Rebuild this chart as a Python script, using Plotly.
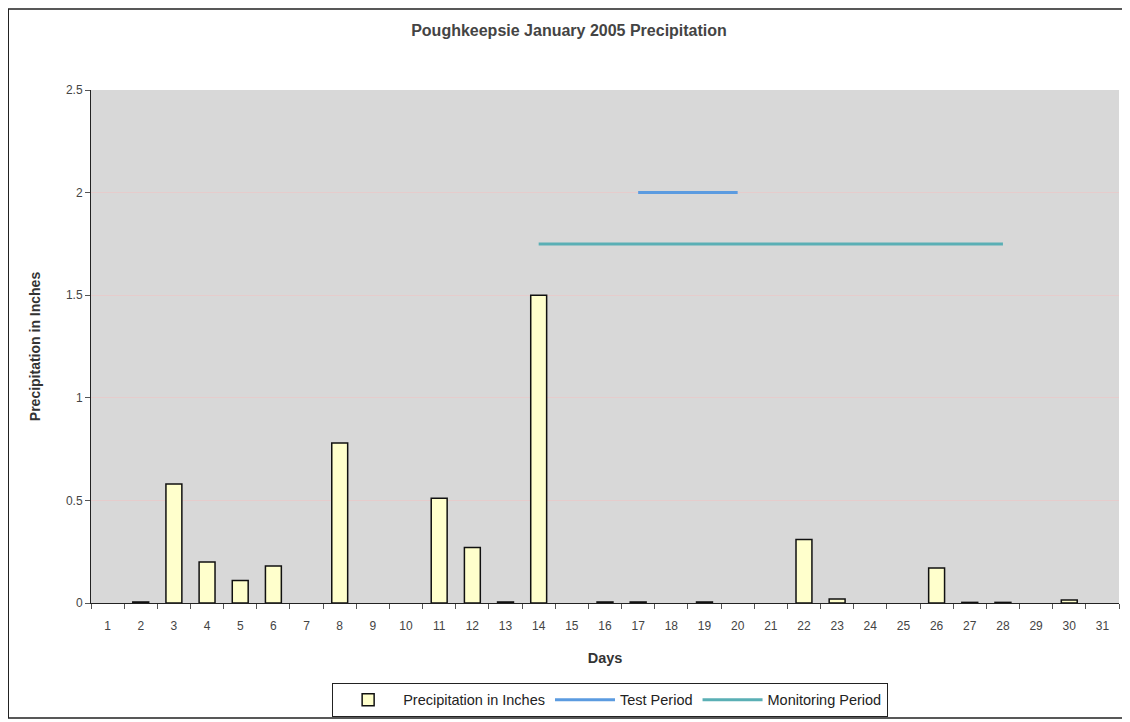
import plotly.graph_objects as go

days = [str(d) for d in range(1, 32)]
precip = [None, 0.005, 0.58, 0.20, 0.11, 0.18, None, 0.78, None, None, 0.51, 0.27, 0.005, 1.50, None,
          0.005, 0.005, None, 0.005, None, None, 0.31, 0.02, None, None, 0.17, 0.003, 0.003, None, 0.015, None]
test_days = ["17", "18", "19", "20"]
test_vals = [2.0, 2.0, 2.0, 2.0]
mon_days = [str(d) for d in range(14, 29)]
mon_vals = [1.75] * len(mon_days)

font = "Liberation Sans, Arial, sans-serif"

fig = go.Figure()
fig.add_trace(go.Bar(x=days, y=precip, name="Precipitation in Inches",
                     marker=dict(color="#FFFFCC", line=dict(color="#111111", width=1.5))))
fig.add_trace(go.Scatter(x=test_days, y=test_vals, mode="lines", name="Test Period",
                         line=dict(color="#5B9BE0", width=3)))
fig.add_trace(go.Scatter(x=mon_days, y=mon_vals, mode="lines", name="Monitoring Period",
                         line=dict(color="#5AAFB5", width=3)))

fig.update_layout(
    width=1122, height=714,
    margin=dict(l=83, r=11, t=82, b=119, autoexpand=False),
    paper_bgcolor="white",
    plot_bgcolor="#d8d8d8",
    bargap=0.52,
    font=dict(family=font, size=12, color="#333333"),
    title=dict(text="<b>Poughkeepsie January 2005 Precipitation</b>", x=0.5, xanchor="center",
               y=0.968, yanchor="middle", font=dict(size=16, color="#444444")),
    xaxis=dict(type="category", title=dict(text="<b>Days</b>", font=dict(size=14.5, color="#333333"), standoff=20),
               showline=True, linecolor="#222222", linewidth=1, ticks="outside", tickson="boundaries",
               ticklen=5, tickcolor="#555555", showgrid=False, ticklabelstandoff=12,
               tickfont=dict(size=12, color="#444444")),
    yaxis=dict(range=[0, 2.5], dtick=0.5, title=dict(text="<b>Precipitation in Inches</b>", font=dict(size=14, color="#333333"), standoff=22),
               showline=True, linecolor="#222222", linewidth=1, ticks="outside", ticklen=5,
               tickcolor="#555555", gridcolor="#e6cccc", gridwidth=1, zeroline=False,
               tickfont=dict(size=12, color="#444444")),
    legend=dict(orientation="h", x=0.505, xanchor="center", xref="paper",
                y=0.055, yanchor="top", yref="container",
                bordercolor="#222222", borderwidth=1, bgcolor="white",
                font=dict(size=14.5, color="#222222"), itemwidth=60),
    showlegend=True,
)
fig.add_shape(type="rect", xref="paper", yref="paper", x0=-0.0805, x1=1.0097, y0=-0.224, y1=1.158,
              line=dict(color="#222222", width=1.5), fillcolor="rgba(0,0,0,0)", layer="below")
fig.write_html("out.html")
